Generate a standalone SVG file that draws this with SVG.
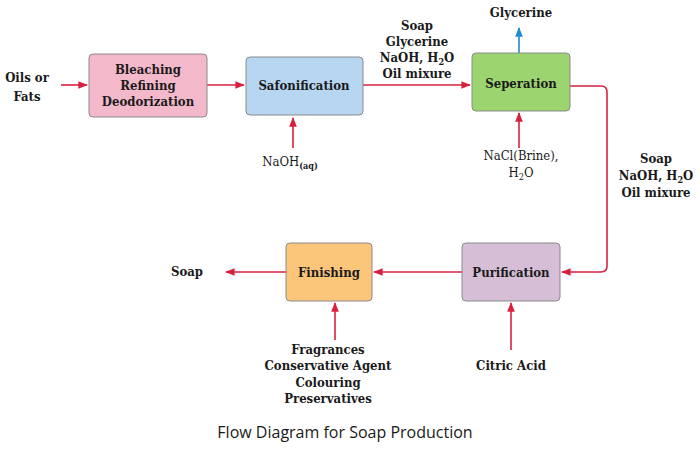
<svg xmlns="http://www.w3.org/2000/svg" width="700" height="449" viewBox="0 0 700 449">
<style>
text{font-family:"DejaVu Serif","Liberation Serif",serif;font-weight:bold;font-size:13px;fill:#1a1a1a;text-anchor:middle;font-stretch:condensed}
.b{stroke:#8a8a8a;stroke-width:1}
.c{stroke:#d8213f;stroke-width:1.6;fill:none;marker-end:url(#a)}
.cap{font-family:"Open Sans",sans-serif;font-weight:normal;font-size:16px;font-stretch:normal}
.s{font-size:9px}
</style>
<defs>
<marker id="a" viewBox="0 0 10 10" refX="9" refY="5" markerWidth="6" markerHeight="6" orient="auto"><path d="M0,1 L10,5 L0,9 Z" fill="#d8213f"/></marker>
<marker id="ab" viewBox="0 0 10 10" refX="9" refY="5" markerWidth="6" markerHeight="6" orient="auto"><path d="M0,1 L10,5 L0,9 Z" fill="#1f8bd0"/></marker>
</defs>
<rect width="700" height="449" fill="#fff"/>
<g id="connectors">
<path class="c" d="M61,85 H87"/>
<path class="c" d="M207,85 H244"/>
<path class="c" d="M363,85 H470"/>
<path d="M519,53 V28" stroke="#1f8bd0" stroke-width="1.6" marker-end="url(#ab)"/>
<path class="c" d="M293,148 V118"/>
<path class="c" d="M519,148 V113"/>
<path class="c" d="M570,86 H601 Q607,86 607,92 V266 Q607,272 601,272 H562"/>
<path class="c" d="M462,272 H374"/>
<path class="c" d="M286,272 H226"/>
<path class="c" d="M335,340 V303"/>
<path class="c" d="M511,350 V303"/>
</g>
<g id="bleaching"><rect class="b" x="89" y="54" width="118" height="63" rx="4" fill="#f4b8cb"/>
<text x="148" y="74">Bleaching</text><text x="148" y="90">Refining</text><text x="148" y="106">Deodorization</text></g>
<g id="safonification"><rect class="b" x="246" y="57" width="117" height="58" rx="4" fill="#b6d6f1"/><text x="304" y="90">Safonification</text></g>
<g id="seperation"><rect class="b" x="472" y="53" width="98" height="58" rx="4" fill="#9cd46f"/><text x="521" y="88">Seperation</text></g>
<g id="purification"><rect class="b" x="462" y="243" width="98" height="58" rx="4" fill="#d6bed7"/><text x="511" y="277">Purification</text></g>
<g id="finishing"><rect class="b" x="286" y="243" width="86" height="58" rx="4" fill="#fbc57a"/><text x="329" y="277">Finishing</text></g>
<g id="labels">
<text x="27" y="82">Oils or</text><text x="27" y="101">Fats</text>
<text x="417" y="30">Soap</text><text x="417" y="46">Glycerine</text><text x="417" y="62">NaOH, H<tspan class="s" dy="3">2</tspan><tspan dy="-3">O</tspan></text><text x="417" y="78">Oil mixure</text>
<text x="521" y="17">Glycerine</text>
<text x="290" y="166" style="font-weight:normal">NaOH<tspan class="s" dy="3" style="font-weight:bold">(aq)</tspan></text>
<text x="521" y="160" style="font-weight:normal">NaCl(Brine),</text><text x="521" y="177" style="font-weight:normal">H<tspan class="s" dy="3">2</tspan><tspan dy="-3">O</tspan></text>
<text x="656" y="163">Soap</text><text x="656" y="180">NaOH, H<tspan class="s" dy="3">2</tspan><tspan dy="-3">O</tspan></text><text x="656" y="197">Oil mixure</text>
<text x="187" y="276">Soap</text>
<text x="328" y="354">Fragrances</text><text x="328" y="370">Conservative Agent</text><text x="328" y="387">Colouring</text><text x="328" y="403">Preservatives</text>
<text x="511" y="370">Citric Acid</text>
<text class="cap" x="345" y="438">Flow Diagram for Soap Production</text>
</g>
</svg>
